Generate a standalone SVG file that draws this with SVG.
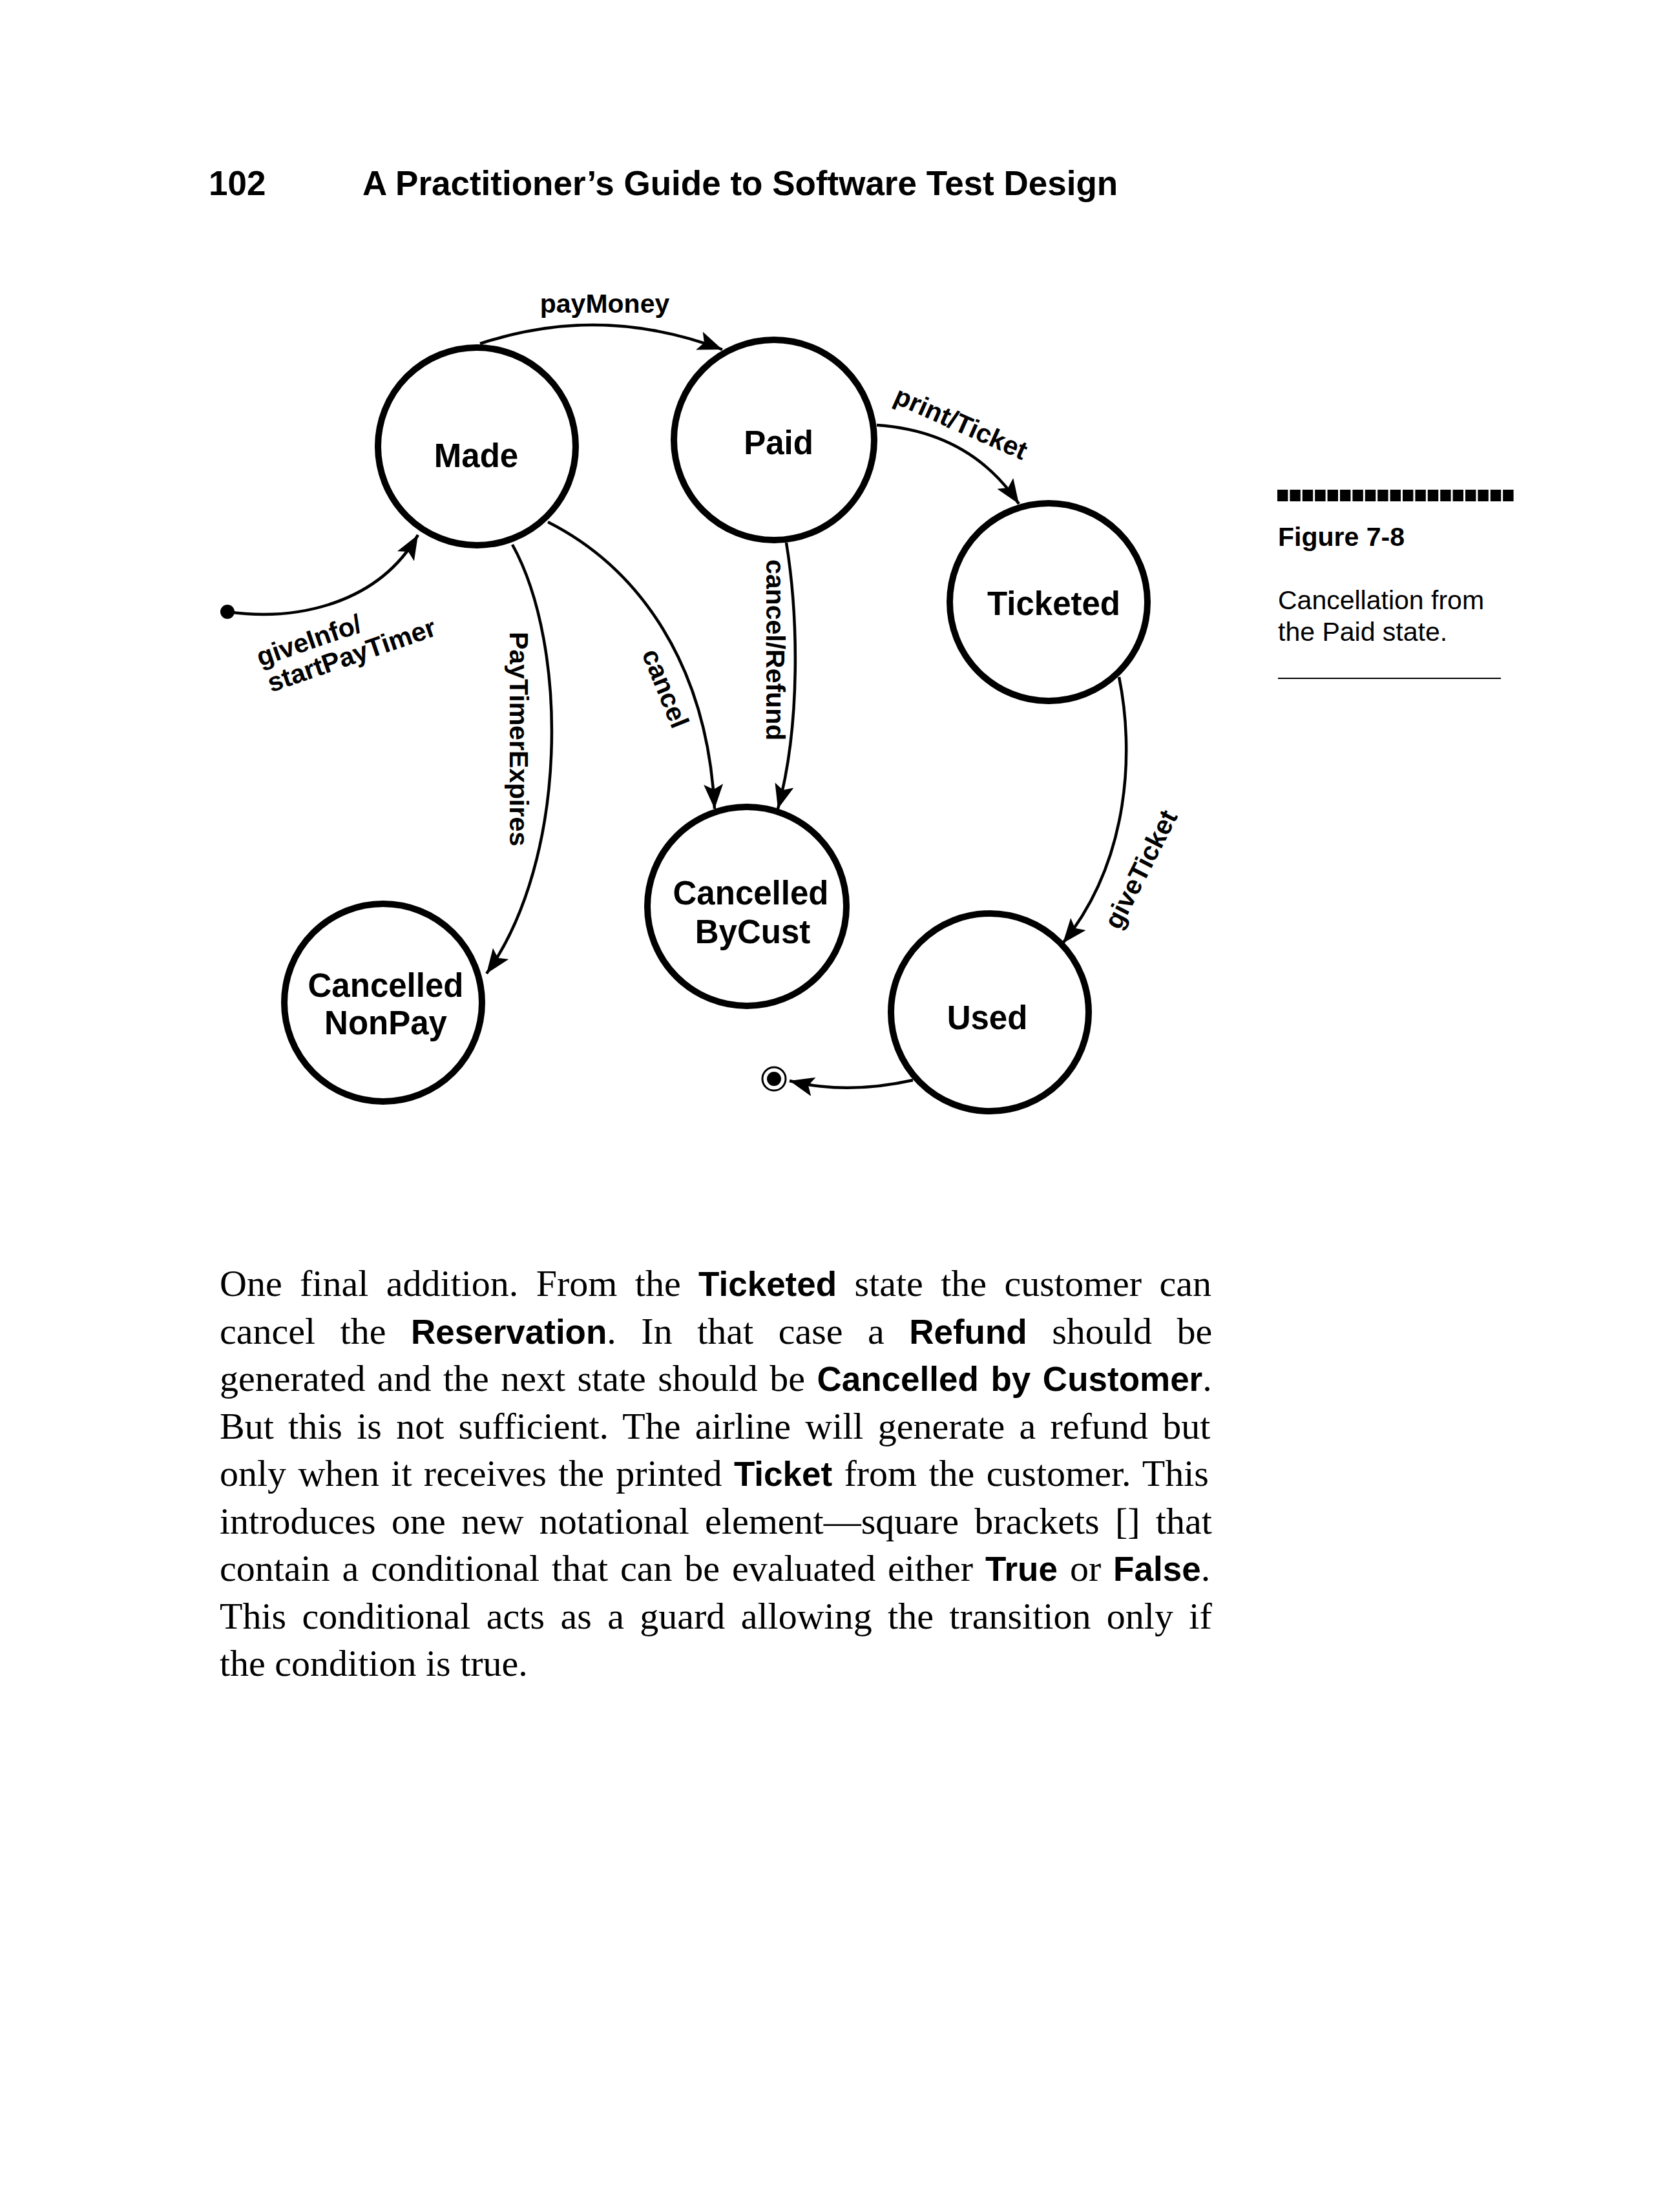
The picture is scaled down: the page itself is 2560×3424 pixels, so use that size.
<svg xmlns="http://www.w3.org/2000/svg" width="2560" height="3424" viewBox="0 0 2560 3424">
<style>
.hdr{font-family:"Liberation Sans",Arial,sans-serif;font-weight:bold;font-size:53px;fill:#000}
.state{fill:#fff;stroke:#000;stroke-width:10}
.nt{font-family:"Liberation Sans",Arial,sans-serif;font-weight:bold;font-size:51px;text-anchor:middle;fill:#000}
.lbl{font-family:"Liberation Sans",Arial,sans-serif;font-weight:bold;font-size:41px;fill:#000}
.conn{fill:none;stroke:#000;stroke-width:4.5;marker-end:url(#arr)}
.cap{font-family:"Liberation Sans",Arial,sans-serif;font-size:41px;fill:#000}
.body{font-family:"Liberation Serif","Times New Roman",serif;font-size:58px;fill:#000}
.b{font-family:"Liberation Sans",Arial,sans-serif;font-weight:bold;font-size:53px}
</style>
<defs>
<marker id="arr" markerWidth="44" markerHeight="34" refX="38" refY="15" orient="auto" markerUnits="userSpaceOnUse">
<path d="M0,0 L38,15 L0,30 L8,15 z" fill="#000"/>
</marker>
</defs>
<rect width="2560" height="3424" fill="#fff"/>

<g id="header">
<text class="hdr" x="323" y="302">102</text>
<text class="hdr" x="561" y="302">A Practitioner’s Guide to Software Test Design</text>
</g>

<g id="initial"><circle cx="352" cy="947" r="11" fill="#000"/></g>
<g id="final"><circle cx="1198" cy="1670" r="18" fill="#fff" stroke="#000" stroke-width="3"/><circle cx="1198" cy="1670" r="11" fill="#000"/></g>

<g id="made"><circle class="state" cx="738" cy="691" r="153"/><text class="nt" x="737" y="723">Made</text></g>
<g id="paid"><circle class="state" cx="1198" cy="681" r="155"/><text class="nt" x="1205" y="703">Paid</text></g>
<g id="ticketed"><circle class="state" cx="1623" cy="932" r="153"/><text class="nt" x="1631" y="952">Ticketed</text></g>
<g id="cancelledByCust"><circle class="state" cx="1156" cy="1403" r="154"/><text class="nt" x="1162" y="1400">Cancelled</text><text class="nt" x="1165" y="1460">ByCust</text></g>
<g id="used"><circle class="state" cx="1532" cy="1567" r="153"/><text class="nt" x="1528" y="1593">Used</text></g>
<g id="cancelledNonPay"><circle class="state" cx="593" cy="1552" r="153"/><text class="nt" x="597" y="1543">Cancelled</text><text class="nt" x="597" y="1601">NonPay</text></g>

<g id="connectors">
<path class="conn" d="M352 947 C460 962 585 935 647 828"/>
<path class="conn" d="M743 532 Q930 470 1118 541"/>
<path class="conn" d="M1357 658 C1460 665 1530 710 1577 780"/>
<path class="conn" d="M793 843 C880 1000 880 1330 753 1507"/>
<path class="conn" d="M848 808 C990 880 1095 1030 1106 1252"/>
<path class="conn" d="M1217 840 C1235 950 1240 1120 1204 1252"/>
<path class="conn" d="M1732 1048 C1755 1160 1750 1330 1645 1460"/>
<path class="conn" d="M1413 1672 Q1310 1695 1222 1673"/>
</g>

<g id="labels">
<text class="lbl" x="936" y="484" text-anchor="middle">payMoney</text>
<text class="lbl" transform="translate(1381 623) rotate(24)">print/Ticket</text>
<text class="lbl" transform="translate(403 1032) rotate(-19)"><tspan x="0" y="0">giveInfo/</tspan><tspan x="3" y="43">startPayTimer</tspan></text>
<text class="lbl" transform="translate(789 978) rotate(90)">PayTimerExpires</text>
<text class="lbl" text-anchor="middle" transform="translate(1017 1071) rotate(68)">cancel</text>
<text class="lbl" transform="translate(1186 866) rotate(90)">cancel/Refund</text>
<text class="lbl" text-anchor="middle" transform="translate(1778 1352) rotate(-63)">giveTicket</text>
</g>

<g id="caption">
<line x1="1977" y1="767" x2="2345" y2="767" stroke="#000" stroke-width="18" stroke-dasharray="16.4 3"/>
<text class="cap" x="1978" y="845" font-weight="bold" font-size="40">Figure 7-8</text>
<text class="cap" x="1978" y="943">Cancellation from</text>
<text class="cap" x="1978" y="992">the Paid state.</text>
<line x1="1978" y1="1050" x2="2323" y2="1050" stroke="#000" stroke-width="2"/>
</g>

<g id="bodytext">
<text class="body" x="340" y="2006" word-spacing="12.9">One final addition. From the <tspan class="b">Ticketed</tspan> state the customer can</text>
<text class="body" x="340" y="2079.5" word-spacing="24">cancel the <tspan class="b">Reservation</tspan>. In that case a <tspan class="b">Refund</tspan> should be</text>
<text class="body" x="340" y="2153" word-spacing="3.9">generated and the next state should be <tspan class="b">Cancelled by Customer</tspan>.</text>
<text class="body" x="340" y="2226.5" word-spacing="7.8">But this is not sufficient. The airline will generate a refund but</text>
<text class="body" x="340" y="2300" word-spacing="3.8">only when it receives the printed <tspan class="b">Ticket</tspan> from the customer. This</text>
<text class="body" x="340" y="2373.5" word-spacing="9.8">introduces one new notational element—square brackets [] that</text>
<text class="body" x="340" y="2447" word-spacing="4.4">contain a conditional that can be evaluated either <tspan class="b">True</tspan> or <tspan class="b">False</tspan>.</text>
<text class="body" x="340" y="2520.5" word-spacing="9.9">This conditional acts as a guard allowing the transition only if</text>
<text class="body" x="340" y="2594">the condition is true.</text>
</g>
</svg>
